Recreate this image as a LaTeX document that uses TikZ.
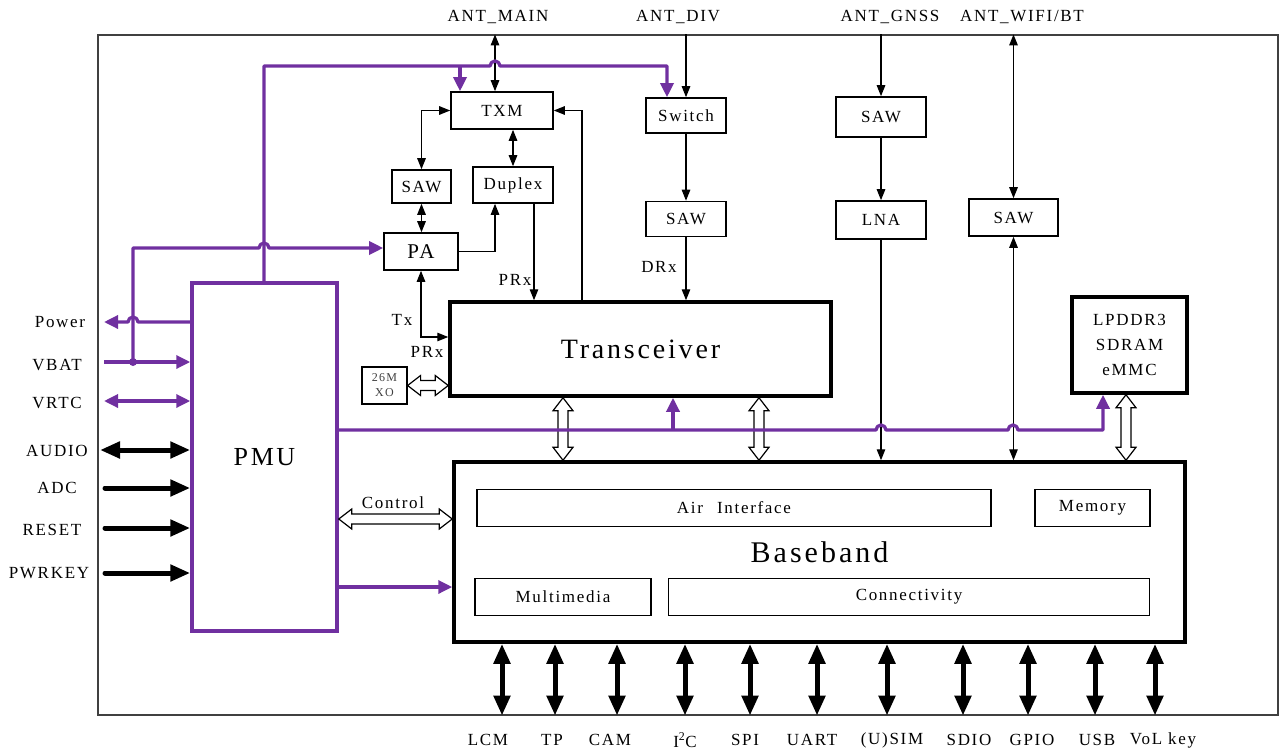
\documentclass[tikz,border=0pt]{standalone}
\usepackage{fontspec}
\setmainfont{Liberation Serif}[LetterSpace=10]
\usetikzlibrary{arrows.meta,calc}
\definecolor{purp}{RGB}{112,48,160}
\newcommand\hollowV[2]{%
  \path[hollow] let \p1=#1, \p2=#2 in
    (\x1,\y1) -- (\x1+10pt,\y1-13pt) -- (\x1+5pt,\y1-13pt) -- (\x1+5pt,\y2+13pt)
    -- (\x1+10pt,\y2+13pt) -- (\x1,\y2) -- (\x1-10pt,\y2+13pt) -- (\x1-5pt,\y2+13pt)
    -- (\x1-5pt,\y1-13pt) -- (\x1-10pt,\y1-13pt) -- cycle;}
\newcommand\hollowH[2]{%
  \path[hollow] let \p1=#1, \p2=#2 in
    (\x1,\y1) -- (\x1+13pt,\y1+10pt) -- (\x1+13pt,\y1+5pt) -- (\x2-13pt,\y1+5pt)
    -- (\x2-13pt,\y1+10pt) -- (\x2,\y1) -- (\x2-13pt,\y1-10pt) -- (\x2-13pt,\y1-5pt)
    -- (\x1+13pt,\y1-5pt) -- (\x1+13pt,\y1-10pt) -- cycle;}
\begin{document}
\begin{tikzpicture}[x=1pt,y=-1pt,
  font=\fontsize{17}{20}\selectfont,
  framebox/.style={draw=black!75, line width=1.2pt, inner sep=0pt},
  box/.style={draw, line width=1.6pt, inner sep=0pt, fill=white},
  bigbox/.style={draw, line width=3.5pt, inner sep=0pt, fill=white},
  pmubox/.style={draw=purp, line width=3.5pt, inner sep=0pt},
  lbl/.style={inner sep=0pt},
  sarr/.style={line width=1.3pt, -{Triangle[length=11pt,width=8.5pt]}},
  sdarr/.style={line width=1.3pt, {Triangle[length=11pt,width=8.5pt]}-{Triangle[length=11pt,width=8.5pt]}},
  pline/.style={draw=purp, line width=3.3pt, line join=round},
  parr/.style={pline, -{Triangle[length=14pt,width=13pt]}},
  pdarr/.style={pline, {Triangle[length=14pt,width=13pt]}-{Triangle[length=14pt,width=13pt]}},
  karr/.style={line width=5pt, line cap=round, -{Triangle[length=20pt,width=16pt]}},
  kdarr/.style={line width=5pt, {Triangle[length=20pt,width=16pt]}-{Triangle[length=20pt,width=16pt]}},
  hollow/.style={draw, line width=1.2pt, fill=white}]
\useasboundingbox (0,0) rectangle (1284,755);

% frame
\node[framebox, minimum width=1180, minimum height=680] (frame) at (688,375) {};

% antenna labels
\node[lbl] (aMain) at (498,17) {ANT\_MAIN};
\node[lbl] (aDiv) at (678,17) {ANT\_DIV};
\node[lbl] (aGnss) at (890,17) {ANT\_GNSS};
\node[lbl] (aWifi) at (1022,17) {ANT\_WIFI/BT};

% RF boxes
\node[box, minimum width=102, minimum height=37] (TXM) at (502,110.5) {TXM};
\node[box, minimum width=80, minimum height=35] (SW) at (686,115.5) {Switch};
\node[box, minimum width=59, minimum height=33] (SAW1) at (421.5,186.5) {SAW};
\node[box, minimum width=80, minimum height=36] (DUP) at (513,185) {Duplex};
\node[box, minimum width=74, minimum height=37, font=\fontsize{21}{24}\selectfont] (PA) at (421,251.5) {PA};
\node[box, minimum width=80, minimum height=35] (SAW2) at (686,219) {SAW};
\node[box, minimum width=90, minimum height=40] (SAW3) at (881,117) {SAW};
\node[box, minimum width=90, minimum height=38] (LNA) at (881,220) {LNA};
\node[box, minimum width=89, minimum height=37] (SAW4) at (1013.5,217.5) {SAW};
\node[box, minimum width=45, minimum height=37, line width=1.2pt, align=center,
      text=black!75, font=\fontsize{12}{15}\selectfont] (XO) at (384.5,385.5) {26M\\XO};
\node[bigbox, minimum width=381, minimum height=94, font=\fontsize{28}{32}\selectfont] (TRX) at (640.5,349) {Transceiver};
\node[bigbox, minimum width=115, minimum height=96, align=center, font=\fontsize{17}{25}\selectfont] (LP) at (1129.5,345) {LPDDR3\\SDRAM\\eMMC};

% baseband
\node[bigbox, minimum width=731, minimum height=180, font=\fontsize{30}{34}\selectfont] (BB) at (819.5,552) {Baseband};
\node[box, minimum width=514, minimum height=37] (AI) at (734,508) {Air\hspace{14pt}Interface};
\node[box, minimum width=115, minimum height=37] (MEM) at (1092.5,508) {Memory};
\node[box, minimum width=176, minimum height=37] (MM) at (563,597) {Multimedia};
\node[box, minimum width=481, minimum height=37] (CON) at (909,597) {Connectivity};

% PMU
\node[pmubox, minimum width=145, minimum height=348, font=\fontsize{26}{30}\selectfont] (PMU) at (264.5,457) {PMU};

% RF labels
\node[lbl] (lPRx1) at (515,280) {PRx};
\node[lbl] (lTx) at (402,320) {Tx};
\node[lbl] (lPRx2) at (427,352) {PRx};
\node[lbl] (lDRx) at (659,267) {DRx};
\node[lbl] (lCtl) at (393,503) {Control};

% left labels
\node[lbl] (lPow) at (60,322) {Power};
\node[lbl] (lVbat) at (57,365) {VBAT};
\node[lbl] (lVrtc) at (57,403) {VRTC};
\node[lbl] (lAud) at (57,451) {AUDIO};
\node[lbl] (lAdc) at (57,488) {ADC};
\node[lbl] (lRst) at (52,530) {RESET};
\node[lbl] (lPwr) at (49,573) {PWRKEY};

% RF connectors
\draw[sdarr] (frame.north -| 495,0) -- (TXM.north -| 495,0);
\draw[sarr] (frame.north -| SW.north) -- (SW.north);
\draw[sarr] (SW) -- (SAW2);
\draw[sarr] (SAW2.south) -- (SAW2.south |- TRX.north);
\draw[sarr] (frame.north -| SAW3.north) -- (SAW3.north);
\draw[sarr] (SAW3) -- (LNA);
\draw[sarr] (LNA.south) -- (LNA.south |- BB.north);
\draw[sdarr] (frame.north -| SAW4.north) -- (SAW4.north);
\draw[sdarr] (SAW4.south) -- (SAW4.south |- BB.north);
\draw[sdarr] (TXM.west) -| (SAW1.north);
\draw[sdarr] (SAW1.south) -- (SAW1.south |- PA.north);
\draw[sdarr] (DUP.north) -- (DUP.north |- TXM.south);
\draw[sarr] (PA.east) -| (DUP.south -| 495,0);
\draw[sarr] (DUP.south -| 534,0) -- (TRX.north -| 534,0);
\draw[sarr] (TRX.north -| 582,0) |- (TXM.east);
\draw[sdarr] (PA.south) |- (TRX.west |- 0,337);

% hollow buses
\hollowH{(XO.east)}{(TRX.west)}
\hollowV{(TRX.south -| 563,0)}{(BB.north -| 563,0)}
\hollowV{(TRX.south -| 759,0)}{(BB.north -| 759,0)}
\hollowV{(LP.south -| 1126,0)}{(BB.north -| 1126,0)}
\hollowH{(PMU.east |- 0,519)}{(BB.west |- 0,519)}

% purple power lines
\draw[parr] (PMU.north -| 264,0) |- (490,66) arc[start angle=180,end angle=0,radius=5pt] -- (667,66) -- (SW.north -| 667,0);
\draw[parr] (460,66) -- (TXM.north -| 460,0);
\draw[parr] (133,362) |- (259,248) arc[start angle=180,end angle=0,radius=5pt] -- (PA.west |- 0,248);
\fill[purp] (133,362) circle[radius=4pt];
\draw[parr] (PMU.west |- 0,322) -- (138,322) arc[start angle=0,end angle=180,radius=5pt] -- (104,322);
\draw[parr] (104,362) -- (PMU.west |- 0,362);
\draw[pdarr] (104,401) -- (PMU.west |- 0,401);
\draw[parr] (PMU.east |- 0,430) -- (876,430) arc[start angle=180,end angle=0,radius=5pt]
   -- (1008,430) arc[start angle=180,end angle=0,radius=5pt] -- (1103,430) -- (LP.south -| 1103,0);
\draw[parr] (673,430) -- (TRX.south -| 673,0);
\draw[parr] (PMU.east |- 0,587) -- (BB.west |- 0,587);

% black PMU inputs
\draw[kdarr] (100,450) -- (PMU.west |- 0,450);
\draw[karr] (105,488) -- (PMU.west |- 0,488);
\draw[karr] (105,528) -- (PMU.west |- 0,528);
\draw[karr] (105,573) -- (PMU.west |- 0,573);

% bottom interfaces
\foreach \x/\lx/\t [count=\i] in {502/488/LCM, 555/552/TP, 617/610/CAM, 685/685/{I\textsuperscript{2}C},
   750/745/SPI, 817/812/UART, 887/892/(U)SIM, 963/969/SDIO, 1028/1032/GPIO, 1095/1097/USB, 1155/1163/{VoL key}} {
  \draw[kdarr] (BB.south -| \x,0) -- (frame.south -| \x,0);
  \node[lbl] (bl\i) at (\lx,740) {\t};
}
\end{tikzpicture}
\end{document}
